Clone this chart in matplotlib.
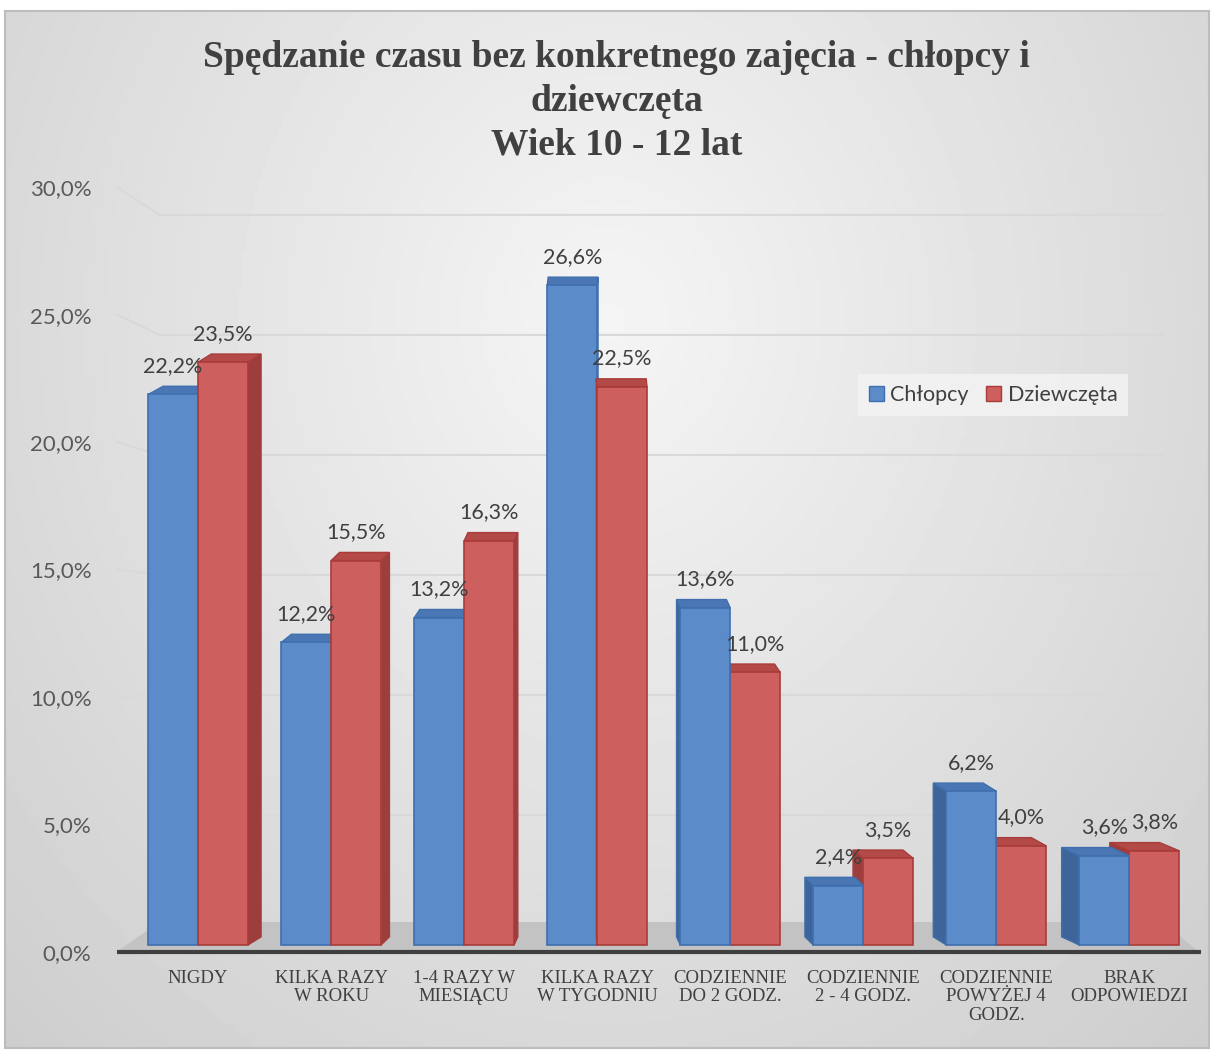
import numpy as np
import matplotlib.pyplot as plt
from matplotlib.patches import Polygon, Patch

# Data
categories = ["NIGDY", "KILKA RAZY\nW ROKU", "1-4 RAZY W\nMIESIĄCU", "KILKA RAZY\nW TYGODNIU",
              "CODZIENNIE\nDO 2 GODZ.", "CODZIENNIE\n2 - 4 GODZ.", "CODZIENNIE\nPOWYŻEJ 4\nGODZ.",
              "BRAK\nODPOWIEDZI"]
chlopcy = [22.2, 12.2, 13.2, 26.6, 13.6, 2.4, 6.2, 3.6]
dziewczeta = [23.5, 15.5, 16.3, 22.5, 11.0, 3.5, 4.0, 3.8]
yticks = [0, 5, 10, 15, 20, 25, 30]

title = "Spędzanie czasu bez konkretnego zajęcia - chłopcy i\ndziewczęta\nWiek 10 - 12 lat"

# styles: (front, edge, side, top)
blue = ("#5b8bc9", "#3f6fae", "#3d659a", "#4a77b3")
red = ("#cd5f5e", "#a83c3b", "#9b3e3d", "#b34a48")

fig = plt.figure(figsize=(12.14, 10.52), dpi=100)

# background gradient
bg = fig.add_axes([0.004, 0.004, 0.992, 0.986])
yy, xx = np.mgrid[0:1:300j, 0:1:300j]
r = np.sqrt(((xx - 0.5) / 0.75) ** 2 + ((yy - 0.3) / 1.0) ** 2)
bg.imshow(0.96 - 0.16 * r, cmap="gray", vmin=0, vmax=1, aspect="auto", extent=[0, 1, 0, 1])
bg.set_xticks([])
bg.set_yticks([])
for s in bg.spines.values():
    s.set_color("#bdbdbd")
    s.set_linewidth(1.5)

ax = fig.add_axes([0.081, 0.0899, 0.904, 0.7426])
ax.patch.set_visible(False)
for s in ax.spines.values():
    s.set_visible(False)


def wall(v):
    return -0.28 + 1.028 * v


def back(v):
    return 0.4 + 0.968 * v


# gridlines on walls
for v in yticks[1:]:
    ax.plot([-0.61, -0.29, 7.25], [wall(v), back(v), back(v)], color="#d9d9d9", lw=1.5,
            zorder=1, clip_on=False)

# floor
ax.add_patch(Polygon([(-0.61, -0.3), (7.52, -0.3), (7.25, 0.9), (-0.29, 0.9)],
                     closed=True, color="#c3c3c3", zorder=1, clip_on=False))
ax.plot([-0.61, 7.54], [-0.3, -0.3], color="#3f3f3f", lw=3, zorder=2, clip_on=False,
        solid_capstyle="butt")

w = 0.375
dy = 0.33


def draw_bar(x0, h, st):
    x1 = x0 + w
    xc = x0 + w / 2
    dx = 0.035 * (3 - xc)
    if dx > 0:
        side = [(x1, 0), (x1 + dx, dy), (x1 + dx, h + dy), (x1, h)]
    else:
        side = [(x0, 0), (x0 + dx, dy), (x0 + dx, h + dy), (x0, h)]
    top = [(x0, h), (x1, h), (x1 + dx, h + dy), (x0 + dx, h + dy)]
    ax.add_patch(Polygon(side, closed=True, facecolor=st[2], edgecolor=st[1], lw=1, zorder=3))
    ax.add_patch(Polygon(top, closed=True, facecolor=st[3], edgecolor=st[1], lw=1, zorder=3))
    ax.bar(xc, h, w, color=st[0], edgecolor=st[1], lw=1.2, zorder=3)
    ax.text(xc, h + 1.15, f"{h:.1f}%".replace(".", ","), ha="center", va="center",
            fontsize=15.5, family="Lato", color="#404040", zorder=5)


for i in range(len(categories)):
    b = (i - w, chlopcy[i], blue)
    rr = (i, dziewczeta[i], red)
    order = [b, rr] if i < 3.5 else [rr, b]
    for x0, h, st in order:
        draw_bar(x0, h, st)

ax.set_yticks([wall(v) for v in yticks])
ax.set_yticklabels([f"{v:.1f}%".replace(".", ",") for v in yticks], family="Lato",
                   fontsize=16, color="#595959")
ax.set_xticks(range(len(categories)))
ax.set_xticklabels(categories, family="Liberation Serif", fontsize=13.5, color="#404040",
                   linespacing=1.1)
ax.tick_params(axis="both", length=0)
ax.tick_params(axis="x", pad=9)
ax.tick_params(axis="y", pad=5)
ax.set_xlim(-0.75, 7.5)
ax.set_ylim(-0.5, 31)

fig.text(0.508, 1 - 40 / 1052, title, ha="center", va="top", family="Liberation Serif",
         fontweight="bold", fontsize=27, color="#404040", linespacing=1.32)

handles = [Patch(facecolor=blue[0], edgecolor=blue[1]), Patch(facecolor=red[0], edgecolor=red[1])]
leg = fig.legend(handles, ["Chłopcy", "Dziewczęta"], loc="center",
                 bbox_to_anchor=(993 / 1214, 1 - 395 / 1052), ncol=2, frameon=True,
                 fancybox=False, prop={"family": "Lato", "size": 15.5}, handlelength=0.7,
                 handleheight=0.7, handletextpad=0.3, columnspacing=0.8, borderpad=0.5)
leg.get_frame().set_facecolor("#f4f4f4")
leg.get_frame().set_edgecolor("none")
for t in leg.get_texts():
    t.set_color("#404040")

fig.savefig("out.png", dpi=100)
